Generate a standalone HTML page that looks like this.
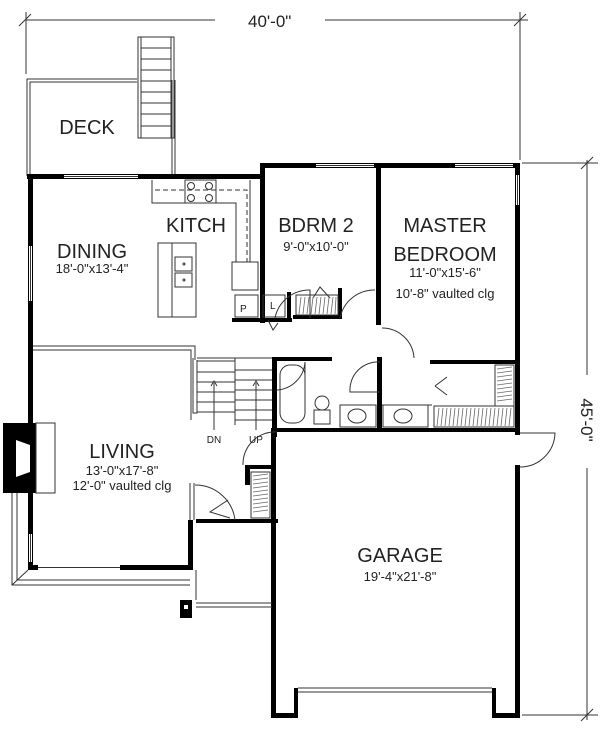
<!DOCTYPE html>
<html><head><meta charset="utf-8"><style>
html,body{margin:0;padding:0;background:#fff}
svg{display:block}
text{font-family:"Liberation Sans",sans-serif;fill:#222}
</style></head><body>
<svg width="600" height="730" viewBox="0 0 600 730" xmlns="http://www.w3.org/2000/svg">
<g stroke="#333" fill="none" stroke-width="1">
<line x1="25" y1="20" x2="215" y2="20"/><line x1="325" y1="20" x2="528" y2="20"/>
<line x1="19" y1="26" x2="31" y2="14"/><line x1="514" y1="26" x2="526" y2="14"/>
<line x1="26" y1="12" x2="26" y2="74"/><line x1="520" y1="12" x2="520" y2="160"/>
<line x1="522" y1="163" x2="598" y2="163"/><line x1="522" y1="715" x2="598" y2="715"/>
<line x1="587" y1="160" x2="587" y2="375"/><line x1="587" y1="468" x2="587" y2="720"/>
<line x1="581" y1="169" x2="593" y2="157"/><line x1="581" y1="721" x2="593" y2="709"/>
<path d="M27 176 V79 H137 M30 176 V82 H137"/>
<path d="M175 176 V80 M172 176 V80"/>
<rect x="138" y="37" width="36" height="101"/>
<rect x="141" y="37" width="30" height="101"/>
</g>
<g stroke="#333" stroke-width="1">
<line x1="141" y1="48" x2="171" y2="48"/><line x1="141" y1="59" x2="171" y2="59"/><line x1="141" y1="70" x2="171" y2="70"/>
<line x1="141" y1="81" x2="171" y2="81"/><line x1="141" y1="92" x2="171" y2="92"/><line x1="141" y1="103" x2="171" y2="103"/>
<line x1="141" y1="114" x2="171" y2="114"/><line x1="141" y1="126" x2="171" y2="126"/>
</g>
<g fill="#000">
<rect x="27" y="174" width="235" height="5"/>
<rect x="260" y="163" width="5" height="16"/>
<rect x="260" y="163" width="260" height="5"/>
<rect x="28" y="174" width="5" height="396"/>
<rect x="260" y="163" width="5" height="160"/>
<rect x="376" y="163" width="5" height="162"/>
<rect x="515" y="163" width="5" height="272"/>
<rect x="232" y="318" width="60" height="4"/>
<rect x="287" y="292" width="4" height="30"/>
<rect x="293" y="315" width="45" height="4"/>
<rect x="338" y="288" width="4" height="31"/>
<rect x="272" y="357" width="5" height="80"/>
<rect x="272" y="357" width="60" height="4"/>
<rect x="377" y="357" width="5" height="73"/>
<rect x="430" y="360" width="90" height="4"/>
<rect x="272" y="428" width="248" height="4"/>
<rect x="271" y="428" width="5" height="290"/>
<rect x="515" y="465" width="5" height="253"/>
<rect x="271" y="713" width="27" height="5"/>
<rect x="294" y="688" width="4" height="30"/>
<rect x="492" y="688" width="4" height="30"/>
<rect x="492" y="713" width="28" height="5"/>
<rect x="245" y="465" width="30" height="4"/>
<rect x="196" y="519" width="82" height="4"/>
<rect x="28" y="565" width="10" height="5"/>
<rect x="120" y="565" width="72" height="5"/>
<rect x="188" y="520" width="5" height="50"/>
<rect x="3" y="423" width="33" height="70"/>
<rect x="180" y="600" width="12" height="18"/>
<rect x="271" y="465" width="4" height="58"/><rect x="245" y="465" width="5" height="20"/>
</g>
<g fill="#fff"><path d="M16 440 L30 445 L30 472 L16 477 Z"/><rect x="184" y="605" width="4" height="4"/>
<rect x="64" y="175" width="74" height="3"/><rect x="316" y="164" width="58" height="3"/><rect x="455" y="164" width="58" height="3"/>
<rect x="516" y="175" width="3" height="30"/><rect x="29" y="246" width="3" height="55"/><rect x="29" y="534" width="3" height="28"/>
<rect x="38" y="566" width="82" height="3"/></g>
<g stroke="#333" fill="none" stroke-width="1">
<line x1="64" y1="176.5" x2="138" y2="176.5"/><line x1="316" y1="165.5" x2="374" y2="165.5"/><line x1="455" y1="165.5" x2="513" y2="165.5"/>
<line x1="517.5" y1="175" x2="517.5" y2="205"/><line x1="30.5" y1="246" x2="30.5" y2="301"/><line x1="30.5" y1="534" x2="30.5" y2="562"/>
<line x1="38" y1="567.5" x2="120" y2="567.5"/>
<path d="M152 180 V203 H236 V262"/><path d="M155 190 H247 V262" stroke-dasharray="5,3"/>
<path d="M250 180 V262"/>
<rect x="185" y="180" width="31" height="23"/>
<circle cx="191" cy="186" r="3.5"/><circle cx="209" cy="186" r="3.5"/><circle cx="191" cy="198" r="3.5"/><circle cx="209" cy="198" r="3.5"/>
<rect x="232" y="262" width="26" height="28"/>
<rect x="235" y="295" width="23" height="22"/><rect x="263" y="295" width="22" height="22"/>
<path d="M268 320 L273 330 L278 323"/>
<rect x="158" y="243" width="38" height="74"/><line x1="172" y1="243" x2="172" y2="317"/>
<rect x="175" y="257" width="17" height="14"/><rect x="175" y="273" width="17" height="14"/>
<circle cx="184" cy="264" r="1"/><circle cx="184" cy="280" r="1"/>
<path d="M33 346 H195 V360 M33 350 H191 V420"/>
<path d="M193 358 V413 H197 V360 M235 358 V425"/>
<path d="M197 358 H272 M197 361 H235"/>
</g>
<g stroke="#333" stroke-width="1">
<line x1="197" y1="372" x2="235" y2="372"/><line x1="197" y1="382" x2="235" y2="382"/><line x1="197" y1="392" x2="235" y2="392"/><line x1="197" y1="402" x2="235" y2="402"/><line x1="197" y1="412" x2="235" y2="412"/>
<line x1="235" y1="370" x2="272" y2="370"/><line x1="235" y1="380" x2="272" y2="380"/><line x1="235" y1="390" x2="272" y2="390"/><line x1="235" y1="400" x2="272" y2="400"/><line x1="235" y1="410" x2="272" y2="410"/><line x1="235" y1="420" x2="272" y2="420"/>
<line x1="214" y1="383" x2="214" y2="430"/><line x1="256" y1="383" x2="256" y2="430"/>
</g>
<g stroke="#333" fill="none" stroke-width="1">
<path d="M211 386 L214 381 L217 386 M253 386 L256 381 L259 386"/>
<path d="M275 318 A35 35 0 0 1 310 290 L310 318"/><path d="M340 318 A 35 35 0 0 1 375 290"/>
<path d="M382 328 A32 32 0 0 1 414 358"/><path d="M277 390 A30 30 0 0 0 305 362 M305 362 V390"/>
<path d="M380 362 A28 28 0 0 0 350 392 H380"/>
<path d="M520 433 H555 A35 35 0 0 1 520 467"/>
<path d="M243 465 A32 32 0 0 1 277 432"/>
<path d="M195 485 A40 40 0 0 1 235 520"/><path d="M228 500 L210 512 L230 518"/>
<path d="M313 298 L320 287 L330 298"/><path d="M435 386 L447 377 M435 386 L447 395"/>
<rect x="280" y="365" width="25" height="58" rx="10"/>
<circle cx="322" cy="403" r="7"/><rect x="314" y="410" width="16" height="14"/>
<rect x="340" y="405" width="36" height="22"/><ellipse cx="357" cy="416" rx="9" ry="7"/>
<rect x="383" y="405" width="45" height="22"/><ellipse cx="403" cy="416" rx="9" ry="7"/>
<line x1="382" y1="405" x2="432" y2="405"/>
<rect x="36" y="423" width="19" height="70"/>
<path d="M12 493 V585 H190 M17 493 V580 H190 M12 585 L28 570"/>
<path d="M190 483 V520 M194 483 V520"/>
<path d="M196 570 V600 M196 607 H272 M196 603 H272"/>
<path d="M298 688 H492 M298 692 H492"/>
<rect x="296" y="295" width="42" height="20"/>
<rect x="434" y="406" width="80" height="21"/>
<rect x="495" y="365" width="19" height="41"/>
<rect x="251" y="472" width="19" height="46"/>
</g>
<g stroke="#666" stroke-width="0.8" fill="none">
<path d="M299 314 L301 297 M303 314 L305 297 M307 314 L309 297 M311 314 L313 297 M315 314 L317 297 M319 314 L321 297 M323 314 L325 297 M327 314 L329 297 M331 314 L333 297 M335 314 L336 297"/>
<path d="M437 426 L439 408 M441 426 L443 408 M445 426 L447 408 M449 426 L451 408 M453 426 L455 408 M457 426 L459 408 M461 426 L463 408 M465 426 L467 408 M469 426 L471 408 M473 426 L475 408 M477 426 L479 408 M481 426 L483 408 M485 426 L487 408 M489 426 L491 408 M493 426 L495 408 M497 426 L499 408 M501 426 L503 408 M505 426 L507 408 M509 426 L511 408"/>
<path d="M497 369 L512 367 M497 373 L512 371 M497 377 L512 375 M497 381 L512 379 M497 385 L512 383 M497 389 L512 387 M497 393 L512 391 M497 397 L512 395 M497 401 L512 399"/>
<path d="M253 476 L268 474 M253 480 L268 478 M253 484 L268 482 M253 488 L268 486 M253 492 L268 490 M253 496 L268 494 M253 500 L268 498 M253 504 L268 502 M253 508 L268 506 M253 512 L268 510"/>
</g>
<text x="248" y="27" font-size="17">40'-0"</text>
<text x="87" y="134" font-size="20" text-anchor="middle">DECK</text>
<text x="92" y="258" font-size="20" text-anchor="middle">DINING</text>
<text x="92" y="273" font-size="13" text-anchor="middle">18'-0"x13'-4"</text>
<text x="196" y="232" font-size="20" text-anchor="middle">KITCH</text>
<text x="316" y="232" font-size="20" text-anchor="middle">BDRM 2</text>
<text x="316" y="251" font-size="13" text-anchor="middle">9'-0"x10'-0"</text>
<text x="445" y="232" font-size="20" text-anchor="middle">MASTER</text>
<text x="445" y="261" font-size="20" text-anchor="middle">BEDROOM</text>
<text x="445" y="277" font-size="13" text-anchor="middle">11'-0"x15'-6"</text>
<text x="445" y="298" font-size="13" text-anchor="middle">10'-8" vaulted clg</text>
<text x="122" y="458" font-size="20" text-anchor="middle">LIVING</text>
<text x="122" y="475" font-size="13" text-anchor="middle">13'-0"x17'-8"</text>
<text x="122" y="490" font-size="13" text-anchor="middle">12'-0" vaulted clg</text>
<text x="400" y="562" font-size="20" text-anchor="middle">GARAGE</text>
<text x="400" y="581" font-size="13" text-anchor="middle">19'-4"x21'-8"</text>
<text x="240" y="312" font-size="10">P</text><text x="270" y="309" font-size="10">L</text>
<text x="214" y="443" font-size="10" text-anchor="middle">DN</text><text x="256" y="443" font-size="10" text-anchor="middle">UP</text>
<text x="0" y="0" font-size="17" text-anchor="middle" transform="translate(581 420) rotate(90)">45'-0"</text>
</svg>
</body></html>
